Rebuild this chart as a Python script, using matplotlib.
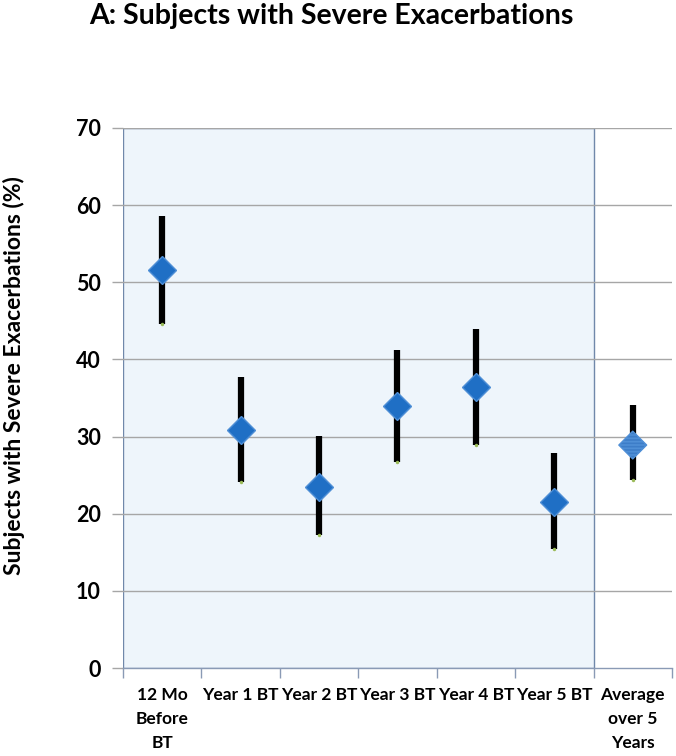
import matplotlib
matplotlib.use("Agg")
import matplotlib.pyplot as plt
from matplotlib.ticker import FixedLocator

plt.rcParams['font.family'] = ['Lato', 'DejaVu Sans']
plt.rcParams['hatch.color'] = 'white'
plt.rcParams['hatch.linewidth'] = 1.2

categories = ["12 Mo\nBefore\nBT", "Year 1 BT", "Year 2 BT", "Year 3 BT",
              "Year 4 BT", "Year 5 BT", "Average\nover 5\nYears"]
values = [51.6, 30.9, 23.5, 34.0, 36.4, 21.5, 28.9]
upper = [58.6, 37.7, 30.1, 41.2, 43.9, 27.9, 34.1]
lower = [44.6, 24.1, 17.2, 26.7, 28.9, 15.4, 24.4]
yticks = [0, 10, 20, 30, 40, 50, 60, 70]

fig = plt.figure(figsize=(6.76, 7.56), dpi=100)
ax = fig.add_axes([0.182, 0.1164, 0.812, 0.7143])

n = len(categories)
ax.set_xlim(-0.5, n - 0.5)
ax.set_ylim(0, 70)

# shaded region for BT period
ax.axvspan(-0.5, n - 1.5, facecolor='#EEF5FB', edgecolor='#7088AA', linewidth=1.0, zorder=0)

# grid
for y in yticks[1:]:
    ax.axhline(y, color='#A6A6A6', linewidth=1.0, zorder=1)

# error bars
for i in range(n):
    ax.plot([i, i], [lower[i], upper[i]], color='black', linewidth=4.5,
            solid_capstyle='butt', zorder=2)
    ax.plot([i], [lower[i]], marker='o', markersize=2.5, color='#9BBB59',
            markeredgewidth=0, zorder=3)

# markers
ax.plot(range(n - 1), values[:n - 1], linestyle='none', marker='D', markersize=14,
        markerfacecolor='#1F6FC5', markeredgecolor='#4F8FD6', markeredgewidth=1.0, zorder=4)
ax.scatter([n - 1], [values[-1]], marker='D', s=200, facecolor='#3D7DC8',
           edgecolor='#4F8FD6', hatch='-----', linewidth=1.0, zorder=4)

# axes styling
for s in ['top', 'right', 'left']:
    ax.spines[s].set_visible(False)
ax.spines['bottom'].set_color('#8A9AB5')
ax.spines['bottom'].set_linewidth(1.0)

ax.set_yticks(yticks)
ax.set_yticklabels([str(v) for v in yticks], fontsize=15.5, fontweight='bold')
ax.tick_params(axis='y', length=8, color='#A6A6A6', width=1.0, pad=8)

ax.set_xticks(range(n))
ax.set_xticklabels(categories, fontsize=12.5, fontweight='bold', linespacing=1.6)
ax.tick_params(axis='x', which='major', length=0, pad=14)
ax.xaxis.set_minor_locator(FixedLocator([i - 0.5 for i in range(n + 1)]))
ax.tick_params(axis='x', which='minor', length=7, color='#8A9AB5', width=1.0)

fig.text(14 / 676, 1 - 376 / 756, "Subjects with Severe Exacerbations (%)", rotation=90,
         ha='center', va='center', fontsize=16.5, fontweight='bold')

fig.text(331 / 676, 1 - 24 / 756, "A: Subjects with Severe Exacerbations", ha='center',
         va='baseline', fontsize=20.5, fontweight='bold')

fig.savefig("out.png", dpi=100)
